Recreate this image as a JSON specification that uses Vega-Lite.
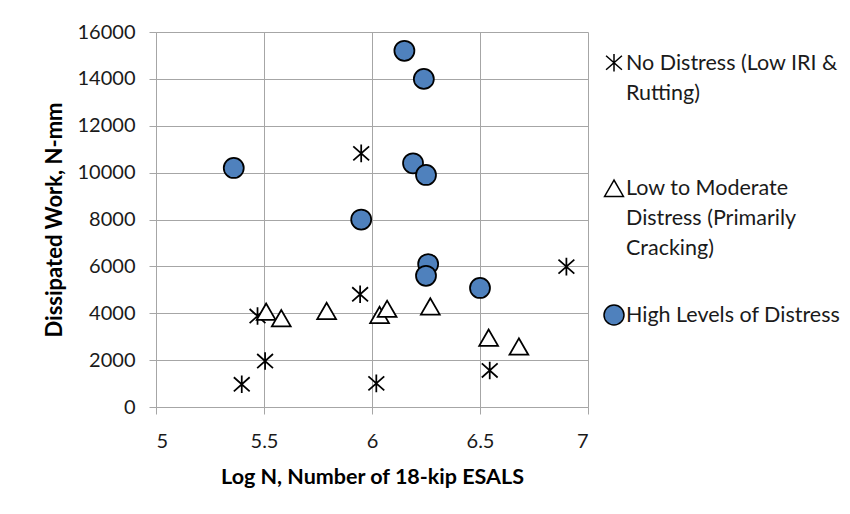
{
  "$schema": "https://vega.github.io/schema/vega-lite/v6.json",
  "width": 432,
  "height": 375,
  "autosize": {"type": "none"},
  "padding": {"left": 156, "top": 32, "right": 262, "bottom": 107},
  "background": "white",
  "config": {
    "view": {"stroke": null},
    "font": "Lato",
    "style": {"guide-label": {"lineHeight": 30, "dy": -10}},
    "axis": {
      "gridColor": "#a6a6a6",
      "gridWidth": 1,
      "domainColor": "#a6a6a6",
      "domainWidth": 1,
      "tickColor": "#a6a6a6",
      "tickSize": 7,
      "labelFont": "Lato",
      "labelFontSize": 20,
      "labelColor": "#1a1a1a",
      "titleFont": "Lato",
      "titleFontWeight": "bold",
      "titleFontSize": 20,
      "titleColor": "#000000"
    }
  },
  "data": {
    "values": [
      {"logN": 6.15, "work": 15200, "series": "High Levels of Distress"},
      {"logN": 6.24, "work": 14000, "series": "High Levels of Distress"},
      {"logN": 5.36, "work": 10200, "series": "High Levels of Distress"},
      {"logN": 6.19, "work": 10400, "series": "High Levels of Distress"},
      {"logN": 6.25, "work": 9900, "series": "High Levels of Distress"},
      {"logN": 5.95, "work": 8000, "series": "High Levels of Distress"},
      {"logN": 6.26, "work": 6100, "series": "High Levels of Distress"},
      {"logN": 6.25, "work": 5600, "series": "High Levels of Distress"},
      {"logN": 6.50, "work": 5080, "series": "High Levels of Distress"},
      {"logN": 5.95, "work": 10820, "series": "No Distress (Low IRI & Rutting)"},
      {"logN": 6.90, "work": 5990, "series": "No Distress (Low IRI & Rutting)"},
      {"logN": 5.945, "work": 4810, "series": "No Distress (Low IRI & Rutting)"},
      {"logN": 5.47, "work": 3880, "series": "No Distress (Low IRI & Rutting)"},
      {"logN": 5.505, "work": 1960, "series": "No Distress (Low IRI & Rutting)"},
      {"logN": 5.397, "work": 970, "series": "No Distress (Low IRI & Rutting)"},
      {"logN": 6.02, "work": 1010, "series": "No Distress (Low IRI & Rutting)"},
      {"logN": 6.545, "work": 1560, "series": "No Distress (Low IRI & Rutting)"},
      {"logN": 5.51, "work": 4070, "series": "Low to Moderate Distress (Primarily Cracking)"},
      {"logN": 5.58, "work": 3790, "series": "Low to Moderate Distress (Primarily Cracking)"},
      {"logN": 5.79, "work": 4100, "series": "Low to Moderate Distress (Primarily Cracking)"},
      {"logN": 6.035, "work": 3930, "series": "Low to Moderate Distress (Primarily Cracking)"},
      {"logN": 6.07, "work": 4190, "series": "Low to Moderate Distress (Primarily Cracking)"},
      {"logN": 6.27, "work": 4290, "series": "Low to Moderate Distress (Primarily Cracking)"},
      {"logN": 6.54, "work": 2960, "series": "Low to Moderate Distress (Primarily Cracking)"},
      {"logN": 6.68, "work": 2580, "series": "Low to Moderate Distress (Primarily Cracking)"}
    ]
  },
  "mark": {"type": "point", "stroke": "black", "strokeWidth": 1.75, "opacity": 1},
  "encoding": {
    "x": {
      "field": "logN",
      "type": "quantitative",
      "scale": {"domain": [5, 7], "nice": false, "zero": false},
      "axis": {
        "values": [5, 5.5, 6, 6.5, 7],
        "format": "~g",
        "labelPadding": 27,
        "title": "Log N, Number of 18-kip ESALS",
        "titleFontSize": 21.5,
        "titlePadding": 15
      }
    },
    "y": {
      "field": "work",
      "type": "quantitative",
      "scale": {"domain": [0, 16000], "nice": false},
      "axis": {
        "values": [0, 2000, 4000, 6000, 8000, 10000, 12000, 14000, 16000],
        "format": "d",
        "labelPadding": 14,
        "labelOffset": 10,
        "title": "Dissipated Work, N-mm",
        "titleFontSize": 22,
        "titlePadding": 11
      }
    },
    "shape": {
      "field": "series",
      "type": "nominal",
      "title": null,
      "scale": {
        "domain": ["No Distress (Low IRI & Rutting)", "Low to Moderate Distress (Primarily Cracking)", "High Levels of Distress"],
        "range": ["M0,-1L0,1M-0.9,-0.8L0.9,0.8M-0.9,0.8L0.9,-0.8", "triangle-up", "circle"]
      },
      "legend": {
        "orient": "none",
        "legendX": 447,
        "legendY": 20,
        "labelFont": "Lato",
        "labelFontSize": 21.5,
        "labelColor": "#1a1a1a",
        "labelLimit": 400,
        "labelBaseline": "top",
        "labelOffset": 1,
        "rowPadding": 41.5,
        "symbolStrokeColor": "black",
        "symbolStrokeWidth": 1.5,
        "labelExpr": "datum.label == 'No Distress (Low IRI & Rutting)' ? ['No Distress (Low IRI &', 'Rutting)', ''] : datum.label == 'Low to Moderate Distress (Primarily Cracking)' ? ['Low to Moderate', 'Distress (Primarily', 'Cracking)'] : [datum.label, '', '']"
      }
    },
    "fill": {
      "field": "series",
      "type": "nominal",
      "title": null,
      "scale": {
        "domain": ["No Distress (Low IRI & Rutting)", "Low to Moderate Distress (Primarily Cracking)", "High Levels of Distress"],
        "range": ["transparent", "white", "#4F81BD"]
      }
    },
    "size": {
      "field": "series",
      "type": "nominal",
      "title": null,
      "scale": {
        "domain": ["No Distress (Low IRI & Rutting)", "Low to Moderate Distress (Primarily Cracking)", "High Levels of Distress"],
        "range": [310, 400, 290]
      }
    }
  }
}
